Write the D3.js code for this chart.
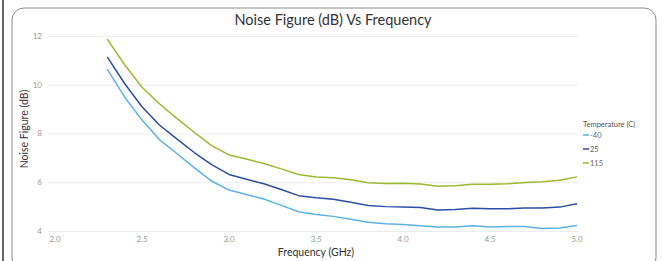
<!DOCTYPE html>
<html><head><meta charset="utf-8">
<script src="https://cdn.jsdelivr.net/npm/d3@7"></script>
<style>
html,body{margin:0;padding:0;background:#fff;}
svg{display:block;font-family:Lato,"Open Sans",sans-serif;}
</style></head>
<body>
<svg id="chart" width="664" height="261"></svg>
<script>
const freqs = [2.3,2.4,2.5,2.6,2.7,2.8,2.9,3.0,3.1,3.2,3.3,3.4,3.5,3.6,3.7,3.8,3.9,4.0,4.1,4.2,4.3,4.4,4.5,4.6,4.7,4.8,4.9,5.0];
const nfMinus40 = [10.64,9.5,8.55,7.75,7.18,6.6,6.05,5.68,5.5,5.31,5.05,4.79,4.68,4.6,4.48,4.36,4.3,4.27,4.22,4.16,4.16,4.22,4.16,4.18,4.18,4.1,4.12,4.23];
const nf25 = [11.14,10.05,9.1,8.35,7.78,7.22,6.72,6.32,6.12,5.94,5.7,5.45,5.36,5.3,5.18,5.05,5.0,4.98,4.96,4.86,4.88,4.93,4.91,4.91,4.94,4.94,4.98,5.12];
const nf115 = [11.87,10.82,9.9,9.22,8.62,8.05,7.5,7.12,6.95,6.77,6.55,6.32,6.22,6.18,6.1,5.98,5.95,5.96,5.93,5.84,5.86,5.92,5.92,5.94,5.99,6.02,6.08,6.22];
const seriesNames = ["-40","25","115"];
const seriesColors = ["#5ab3e6","#2b4ea6","#9bba2f"];
const xTicks = [2.0,2.5,3.0,3.5,4.0,4.5,5.0];
const yTicks = [4,6,8,10,12];

const svg = d3.select("#chart");
// outer frame
svg.append("line").attr("x1",3).attr("x2",3).attr("y1",0).attr("y2",261).attr("stroke","#666").attr("stroke-width",2);
svg.append("rect").attr("x",12).attr("y",8).attr("width",644).attr("height",262).attr("rx",12)
  .attr("fill","#fff").attr("stroke","#8a8a8a").attr("stroke-width",1);

const x = d3.scaleLinear().domain([2,5]).range([55,577]);
const y = d3.scaleLinear().domain([4,12]).range([231,36]);

// grid
svg.append("g").selectAll("line").data(yTicks).join("line")
  .attr("x1",48).attr("x2",578).attr("y1",d=>y(d)+0.5).attr("y2",d=>y(d)+0.5)
  .attr("stroke","#ececec").attr("stroke-width",1);

// y tick labels
svg.append("g").selectAll("text").data(yTicks).join("text")
  .attr("x",42).attr("y",d=>y(d)).attr("dy","0.35em").attr("text-anchor","end")
  .attr("font-size",8).attr("fill","#999").text(d=>d);
// x tick labels
svg.append("g").selectAll("text").data(xTicks).join("text")
  .attr("x",d=>x(d)).attr("y",239).attr("dy","0.35em").attr("text-anchor","middle")
  .attr("font-size",8).attr("fill","#999").text(d=>d.toFixed(1));

// title
svg.append("text").attr("x",333).attr("y",20).attr("dy","0.35em").attr("text-anchor","middle")
  .attr("font-size",14.5).attr("fill","#333").text("Noise Figure (dB) Vs Frequency");
svg.append("text").attr("x",316).attr("y",252).attr("dy","0.35em").attr("text-anchor","middle")
  .attr("font-size",10.5).attr("fill","#333").text("Frequency (GHz)");
svg.append("text").attr("transform","translate(24,129) rotate(-90)").attr("dy","0.35em").attr("text-anchor","middle")
  .attr("font-size",10.5).attr("fill","#333").text("Noise Figure (dB)");

const allSeries = [nfMinus40, nf25, nf115];
const line = d3.line().x((d,i)=>x(freqs[i])).y(d=>y(d));
allSeries.forEach((s,k)=>{
  svg.append("path").datum(s).attr("d",line).attr("fill","none")
    .attr("stroke",seriesColors[k]).attr("stroke-width",1.5).attr("stroke-linejoin","round");
});

// legend
const lg = svg.append("g");
lg.append("text").attr("x",583).attr("y",124).attr("dy","0.35em").attr("font-size",7.5).attr("fill","#555").text("Temperature (C)");
seriesNames.forEach((n,k)=>{
  const yy = 135 + k*14;
  lg.append("line").attr("x1",583).attr("x2",589).attr("y1",yy).attr("y2",yy).attr("stroke",seriesColors[k]).attr("stroke-width",1.5);
  lg.append("text").attr("x",590).attr("y",yy).attr("dy","0.35em").attr("font-size",7.5).attr("fill","#666").text(n);
});
</script>
</body></html>
